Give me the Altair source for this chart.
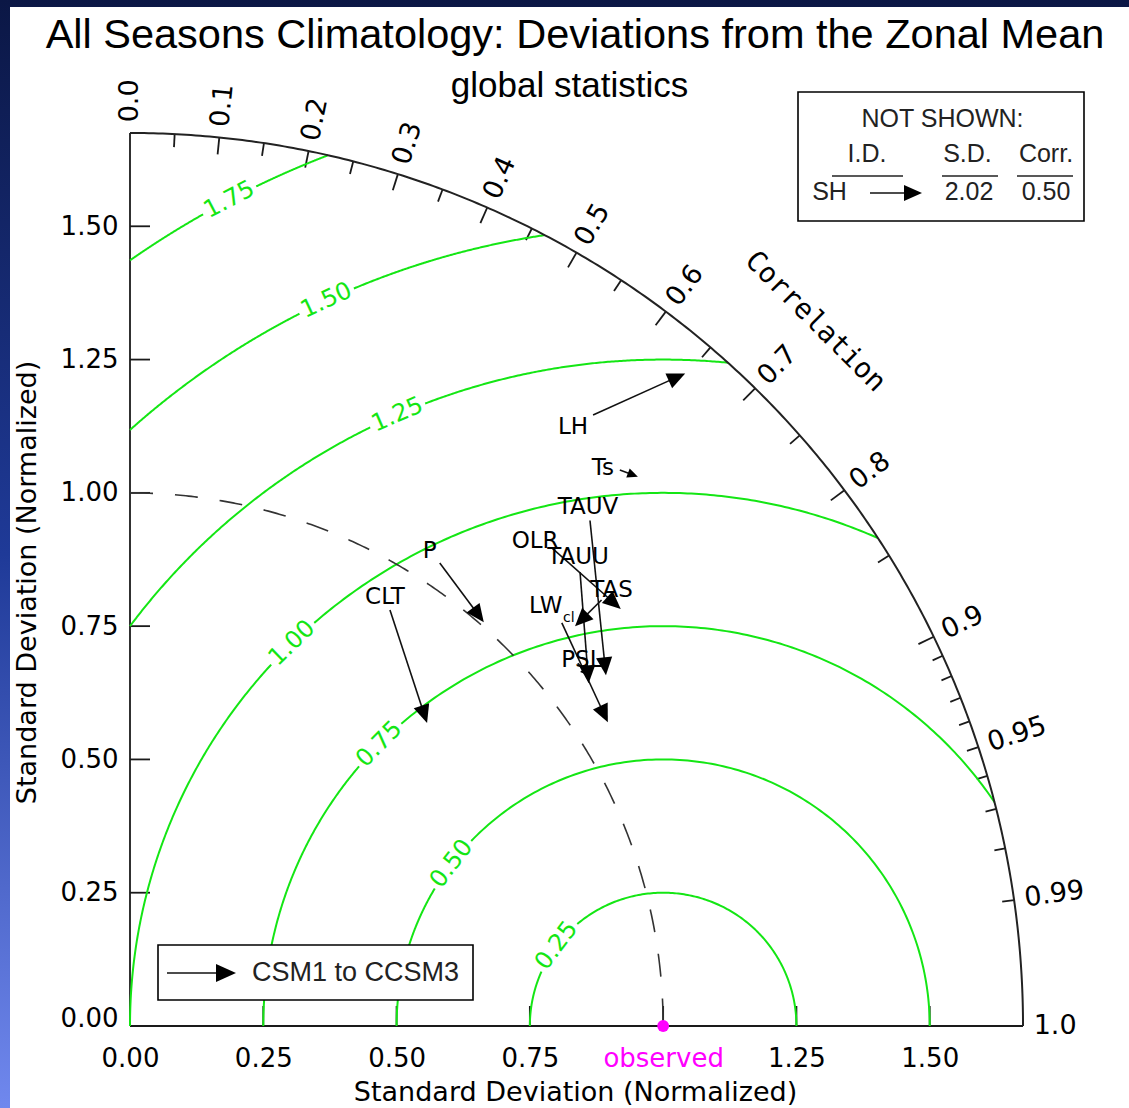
import math
import numpy as np
import pandas as pd
import altair as alt

# ---------------- chart values ----------------
variables   = ["LH", "Ts", "TAUV", "OLR", "TAUU", "TAS", "LW", "PSL", "P", "CLT"]
csm1_sd     = [1.438, 1.390, 1.282, 1.196, 1.199, 1.192, 1.108, 1.081, 1.045, 0.920]
csm1_corr   = [0.604, 0.661, 0.673, 0.662, 0.704, 0.742, 0.731, 0.777, 0.556, 0.530]
ccsm3_sd    = [1.607, 1.403, 1.109, 1.208, 1.074, 1.122, 1.062, 1.084, 1.007, 0.796]
ccsm3_corr  = [0.648, 0.679, 0.805, 0.762, 0.801, 0.744, 0.844, 0.796, 0.659, 0.700]

not_shown_ids  = ["SH"]
not_shown_sd   = ["2.02"]
not_shown_corr = ["0.50"]

observed_sd    = 1.0
rms_levels     = [0.25, 0.50, 0.75, 1.00, 1.25, 1.50, 1.75]
corr_labelled  = [0.0, 0.1, 0.2, 0.3, 0.4, 0.5, 0.6, 0.7, 0.8, 0.9, 0.95, 0.99, 1.0]
corr_lab_text  = ["0.0", "0.1", "0.2", "0.3", "0.4", "0.5", "0.6", "0.7", "0.8", "0.9", "0.95", "0.99", "1.0"]
corr_minor     = [0.05, 0.15, 0.25, 0.35, 0.45, 0.55, 0.65, 0.75, 0.85,
                  0.91, 0.92, 0.93, 0.94, 0.96, 0.97, 0.98]
sd_ticks       = [0.0, 0.25, 0.50, 0.75, 1.0, 1.25, 1.50]

title_text    = "All Seasons Climatology: Deviations from the Zonal Mean"
subtitle_text = "global statistics"
axis_title    = "Standard Deviation (Normalized)"
corr_title    = "Correlation"
legend_text   = "CSM1 to CCSM3"

# ---------------- layout / style ----------------
W = H = 933
DMAX = 1.75
K = W / DMAX            # pixels per unit
PL, PT = 130, 93
PR, PB = 1129 - PL - W, 1108 - PT - H
R_OUT = 1.675
GREEN = "#14e614"
MAGENTA = "#ff00ff"
HERSHEY = "DejaVu Sans"
ARIAL = "Liberation Sans"

rms_label_theta = {0.25: 143.0, 0.50: 142.5, 0.75: 135.2, 1.00: 134.1,
                   1.25: 113.5, 1.50: 114.9, 1.75: 117.7}
label_offset = {"LH": (-20, 12), "Ts": (-17, -2), "TAUV": (-2, -13), "OLR": (-17, -7),
                "TAUU": (-2, -15), "TAS": (10, -10), "LW": (-16, -17), "PSL": (4, -3),
                "P": (-10, -12), "CLT": (-5, -13)}


def px(xp):
    return (xp - PL) / K


def py(yp):
    return (PT + H - yp) / K


def polar(sd, c):
    return sd * c, sd * math.sqrt(max(0.0, 1 - c * c))


xs = alt.Scale(domain=[0, DMAX], nice=False, zero=False)
ys = alt.Scale(domain=[0, DMAX], nice=False, zero=False)

x_axis = alt.Axis(
    values=[v for v in sd_ticks],
    labelExpr="datum.value === 1 ? 'observed' : format(datum.value, '.2f')",
    labelColor={"condition": {"test": "datum.value === 1", "value": MAGENTA}, "value": "black"},
    labelFont=HERSHEY, labelFontSize=26, labelPadding=19, labelFlush=False,
    domain=False, ticks=False, tickSize=0, grid=False, zindex=1,
    title=axis_title, titleFont=HERSHEY, titleFontSize=27, titleFontWeight="normal",
    titleColor="black", titleX=445, titleY=74, titleBaseline="alphabetic", titleAlign="center",
)
y_axis = alt.Axis(
    values=[v for v in sd_ticks],
    format=".2f",
    labelBaseline={"condition": {"test": "datum.value === 0", "value": "alphabetic"}, "value": "middle"},
    labelFont=HERSHEY, labelFontSize=26, labelPadding=12, labelFlush=False, labelColor="black",
    domain=False, ticks=False, tickSize=0, grid=False, zindex=1,
    title=axis_title, titleFont=HERSHEY, titleFontSize=27, titleFontWeight="normal",
    titleColor="black", titleAngle=270, titleX=-95, titleY=489, titleBaseline="alphabetic",
    titleAlign="center",
)


def X(f="x"):
    return alt.X(f"{f}:Q", scale=xs, axis=x_axis)


def Y(f="y"):
    return alt.Y(f"{f}:Q", scale=ys, axis=y_axis)


def text_layer(df, font, size, color="black", align="center", baseline="middle", angle=False):
    enc = dict(x=X(), y=Y(), text=alt.Text("t:N"))
    if angle:
        enc["angle"] = alt.Angle("ang:Q", scale=None)
    return alt.Chart(df).mark_text(font=font, fontSize=size, color=color, align=align,
                                   baseline=baseline, clip=False).encode(**enc)


def rule_layer(df, color="black", width=1.6, dash=None):
    kw = dict(color=color, strokeWidth=width, clip=False)
    if dash:
        kw["strokeDash"] = dash
    return alt.Chart(df).mark_rule(**kw).encode(x=X(), y=Y(), x2=alt.X2("x2:Q"), y2=alt.Y2("y2:Q"))


def line_layer(df, color="black", width=1.6, dash=None):
    kw = dict(color=color, strokeWidth=width, clip=False)
    if dash:
        kw["strokeDash"] = dash
    return alt.Chart(df).mark_line(**kw).encode(x=X(), y=Y(), detail="seg:N", order="i:Q")


one = pd.DataFrame({"a": [0]})

# background (blue frame + white page)
bg = alt.Chart(one).mark_rect(fill={
    "gradient": "linear", "x1": 0, "y1": 0, "x2": 0, "y2": 1,
    "stops": [{"offset": 0, "color": "#0b1745"}, {"offset": 0.5, "color": "#1f3a98"},
              {"offset": 1, "color": "#7088ee"}]}).encode(
    x=alt.value(-PL), x2=alt.value(W + PR), y=alt.value(-PT), y2=alt.value(H + PB))
page = alt.Chart(one).mark_rect(fill="white").encode(
    x=alt.value(10 - PL), x2=alt.value(W + PR), y=alt.value(7 - PT), y2=alt.value(H + PB))

# ---------------- RMS (green) arcs ----------------
g_rows, g_lab = [], []
for r in rms_levels:
    if 1 + r <= R_OUT:
        t0 = 0.0
    else:
        xi = (R_OUT ** 2 + 1 - r ** 2) / 2
        yi = math.sqrt(R_OUT ** 2 - xi ** 2)
        t0 = math.atan2(yi, xi - 1)
    t1 = math.pi if r <= 1 else math.atan2(math.sqrt(r * r - 1), -1)
    tc = math.radians(rms_label_theta[r])
    g = 30 / (r * K)
    for s, (a, b) in enumerate([(t0, tc - g), (tc + g, t1)]):
        for i, t in enumerate(np.linspace(a, b, 160)):
            g_rows.append({"seg": f"{r}-{s}", "i": i, "x": 1 + r * math.cos(t), "y": r * math.sin(t)})
    g_lab.append({"x": 1 + r * math.cos(tc), "y": r * math.sin(tc),
                  "ang": (450 - rms_label_theta[r]) % 360, "t": f"{r:.2f}"})
green_lines = line_layer(pd.DataFrame(g_rows), color=GREEN, width=2)
green_text = text_layer(pd.DataFrame(g_lab), HERSHEY, 24, color=GREEN, angle=True)

# ---------------- frame: outer arc, axes lines, ticks ----------------
arc_rows = [{"seg": "outer", "i": i, "x": R_OUT * math.cos(t), "y": R_OUT * math.sin(t)}
            for i, t in enumerate(np.linspace(0, math.pi / 2, 300))]
outer = line_layer(pd.DataFrame(arc_rows), color="#222222", width=2)

frame_rows = [{"x": 0, "y": 0, "x2": 0, "y2": R_OUT}, {"x": 0, "y": 0, "x2": R_OUT, "y2": 0}]
for v in sd_ticks[1:]:
    frame_rows.append({"x": 0, "y": v, "x2": 20 / K, "y2": v})
    frame_rows.append({"x": v, "y": 0, "x2": v, "y2": 20 / K})
for c in corr_labelled[1:-1]:
    L = 17 if c <= 0.9 else 12
    t = math.acos(c)
    frame_rows.append({"x": R_OUT * math.cos(t), "y": R_OUT * math.sin(t),
                       "x2": (R_OUT - L / K) * math.cos(t), "y2": (R_OUT - L / K) * math.sin(t)})
for c in corr_minor:
    L = 13 if c < 0.9 else 11
    t = math.acos(c)
    frame_rows.append({"x": R_OUT * math.cos(t), "y": R_OUT * math.sin(t),
                       "x2": (R_OUT - L / K) * math.cos(t), "y2": (R_OUT - L / K) * math.sin(t)})
frame = rule_layer(pd.DataFrame(frame_rows), color="#1a1a1a", width=1.8)

c_lab = []
for c, s in zip(corr_labelled, corr_lab_text):
    t = math.acos(c)
    c_lab.append({"x": 1.695 * math.cos(t), "y": 1.695 * math.sin(t),
                  "ang": (360 - math.degrees(t)) % 360, "t": s})
corr_text = text_layer(pd.DataFrame(c_lab), HERSHEY, 27, align="left", angle=True)
corr_title_layer = text_layer(pd.DataFrame([{"x": px(815), "y": py(322), "ang": 45, "t": corr_title}]),
                              "DejaVu Sans Mono", 28, angle=True)

# dashed unit arc
d_rows = [{"seg": "unit", "i": i, "x": math.cos(t), "y": math.sin(t)}
          for i, t in enumerate(np.linspace(math.pi / 2, 0, 300))]
dashed = line_layer(pd.DataFrame(d_rows), color="#333333", width=1.6, dash=[23, 22])

# ---------------- arrows ----------------
shafts, heads = [], []


def add_arrow(x0, y0, x1, y1, L):
    dx, dy = x1 - x0, y1 - y0
    d = math.hypot(dx, dy)
    Lh = min(L, 0.55 * d * K)
    ux, uy = dx / d, dy / d
    back = 0.6 * Lh / K
    shafts.append({"x": x0, "y": y0, "x2": x1 - ux * back, "y2": y1 - uy * back})
    heads.append({"x": x1, "y": y1, "ang": math.degrees(math.atan2(-dy, dx)) % 360, "sz": (2 * Lh) ** 2})


v_lab = []
sub = None
for name, s0, c0, s1, c1 in zip(variables, csm1_sd, csm1_corr, ccsm3_sd, ccsm3_corr):
    x0, y0 = polar(s0, c0)
    x1, y1 = polar(s1, c1)
    add_arrow(x0, y0, x1, y1, 18)
    ox, oy = label_offset[name]
    v_lab.append({"x": x0 + ox / K, "y": y0 - oy / K, "t": name})
    if name == "LW":
        sub = {"x": x0 + 7 / K, "y": y0 + 5 / K, "t": "cl"}

# legend arrows
add_arrow(px(167), py(973), px(236), py(973), 20)
add_arrow(px(870), py(193), px(922), py(193), 18)

HEAD = "M0,0L-1,-0.45L-1,0.45Z"
shaft_layer = rule_layer(pd.DataFrame(shafts), color="#111111", width=1.6)
head_layer = alt.Chart(pd.DataFrame(heads)).mark_point(
    shape=HEAD, filled=True, color="black", opacity=1, strokeWidth=0.5, clip=False).encode(
    x=X(), y=Y(), angle=alt.Angle("ang:Q", scale=None), size=alt.Size("sz:Q", scale=None))

var_text = text_layer(pd.DataFrame(v_lab), HERSHEY, 23)
sub_text = text_layer(pd.DataFrame([sub]), HERSHEY, 14)

# observed point
obs = alt.Chart(pd.DataFrame({"x": [observed_sd], "y": [0.0]})).mark_point(
    shape="circle", filled=True, color=MAGENTA, opacity=1, size=140, clip=False).encode(x=X(), y=Y())

# ---------------- titles ----------------
titles = pd.DataFrame([{"x": px(575), "y": py(48), "t": title_text}])
subtitles = pd.DataFrame([{"x": px(569.5), "y": py(97), "t": subtitle_text}])
title_layer = text_layer(titles, ARIAL, 41.5, baseline="alphabetic")
subtitle_layer = text_layer(subtitles, ARIAL, 35, baseline="alphabetic")

# ---------------- legend boxes ----------------
boxes = pd.DataFrame([
    {"x": px(798), "y": py(92), "x2": px(1084), "y2": py(221)},
    {"x": px(158), "y": py(945), "x2": px(473), "y2": py(1000)},
])
box_layer = alt.Chart(boxes).mark_rect(fill="white", stroke="black", strokeWidth=1.6, clip=False).encode(
    x=X(), y=Y(), x2=alt.X2("x2:Q"), y2=alt.Y2("y2:Q"))
underlines = rule_layer(pd.DataFrame([
    {"x": px(832), "y": py(176), "x2": px(903), "y2": py(176)},
    {"x": px(942), "y": py(176), "x2": px(998), "y2": py(176)},
    {"x": px(1017), "y": py(176), "x2": px(1073), "y2": py(176)},
]), color="#222222", width=1.3)
legend_txt = pd.DataFrame([
    {"x": px(942.5), "y": py(119), "t": "NOT SHOWN:"},
    {"x": px(867), "y": py(154), "t": "I.D."},
    {"x": px(967.5), "y": py(154), "t": "S.D."},
    {"x": px(1046), "y": py(154), "t": "Corr."},
    {"x": px(829.5), "y": py(192), "t": not_shown_ids[0]},
    {"x": px(969), "y": py(192), "t": not_shown_sd[0]},
    {"x": px(1046), "y": py(192), "t": not_shown_corr[0]},
])
legend_txt_layer = text_layer(legend_txt, ARIAL, 25, color="#222222")
legend2_txt = text_layer(pd.DataFrame([{"x": px(252), "y": py(973), "t": legend_text}]),
                         ARIAL, 27, color="#222222", align="left")

chart = alt.layer(
    bg, page,
    frame,
    green_lines, green_text,
    dashed, outer,
    box_layer,
    corr_text, corr_title_layer,
    shaft_layer, head_layer, var_text, sub_text,
    obs,
    title_layer, subtitle_layer,
    underlines, legend_txt_layer, legend2_txt,
).properties(
    width=W, height=H,
    autosize=alt.AutoSizeParams(type="none"),
    padding={"left": PL, "top": PT, "right": PR, "bottom": PB},
    background="white",
).configure_view(strokeWidth=0)

chart.save("out.html", embed_options={"renderer": "svg", "actions": False})
